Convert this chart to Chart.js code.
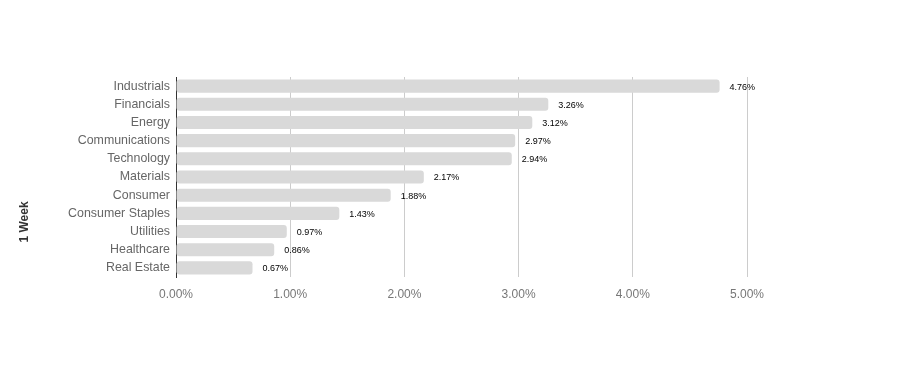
<!DOCTYPE html>
<html>
<head>
<meta charset="utf-8">
<script src="https://cdn.jsdelivr.net/npm/chart.js@4"></script>
<style>
  html, body { margin: 0; padding: 0; background: #fff; }
  #wrap { width: 924px; height: 391px; }
</style>
</head>
<body>
<div id="wrap"><canvas id="sectorChart" width="924" height="391"></canvas></div>
<script>
const sectors = ["Industrials", "Financials", "Energy", "Communications", "Technology", "Materials",
  "Consumer", "Consumer Staples", "Utilities", "Healthcare", "Real Estate"];
const weekReturns = [4.76, 3.26, 3.12, 2.97, 2.94, 2.17, 1.88, 1.43, 0.97, 0.86, 0.67];
const xTicks = [0, 1, 2, 3, 4, 5];
const axisTitle = "1 Week";

const font = "Arial, 'Liberation Sans', sans-serif";

// nhãn giá trị ở cuối mỗi thanh + tiêu đề trục dọc
const valueLabels = {
  id: "valueLabels",
  afterDatasetsDraw(chart) {
    const ctx = chart.ctx;
    const meta = chart.getDatasetMeta(0);
    ctx.save();
    ctx.font = "9px " + font;
    ctx.fillStyle = "#000";
    ctx.textAlign = "left";
    ctx.textBaseline = "middle";
    meta.data.forEach((bar, i) => {
      ctx.fillText(weekReturns[i].toFixed(2) + "%", bar.x + 10, bar.y + 1);
    });

    ctx.translate(25, 222);
    ctx.rotate(-Math.PI / 2);
    ctx.font = "bold 12px " + font;
    ctx.fillStyle = "#333";
    ctx.textAlign = "center";
    ctx.fillText(axisTitle, 0, 0);
    ctx.restore();
  }
};

new Chart(document.getElementById("sectorChart"), {
  type: "bar",
  data: {
    labels: sectors,
    datasets: [{
      data: weekReturns,
      backgroundColor: "#d9d9d9",
      borderRadius: 3,
      borderSkipped: false,
      barPercentage: 0.72,
      categoryPercentage: 1
    }]
  },
  options: {
    indexAxis: "y",
    responsive: false,
    animation: false,
    layout: { padding: { left: 16, right: 177, top: 77, bottom: 84 } },
    plugins: { legend: { display: false }, tooltip: { enabled: false } },
    scales: {
      x: {
        min: 0,
        max: 5,
        afterBuildTicks: axis => { axis.ticks = xTicks.map(v => ({ value: v })); },
        afterFit: axis => { axis.height = 30; },
        grid: {
          color: c => c.index === 0 ? "#333" : "#ccc",
          lineWidth: 1,
          drawTicks: false
        },
        border: { display: false },
        ticks: {
          padding: 10,
          color: "#777",
          font: { family: font, size: 12 },
          callback: v => Number(v).toFixed(2) + "%"
        }
      },
      y: {
        afterFit: axis => { axis.width = 160; },
        grid: { display: false, drawTicks: false },
        border: { display: true, color: "#333" },
        ticks: {
          padding: 6,
          color: "#666",
          font: { family: font, size: 12.4 }
        }
      }
    }
  },
  plugins: [valueLabels]
});
</script>
</body>
</html>
